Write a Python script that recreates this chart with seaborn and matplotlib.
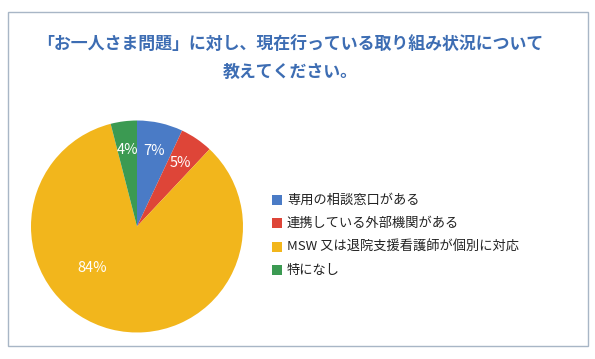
import matplotlib
matplotlib.use("Agg")
import matplotlib.pyplot as plt
import seaborn as sns
from matplotlib.patches import Rectangle

title = "「お一人さま問題」に対し、現在行っている取り組み状況について\n教えてください。"
categories = ["専用の相談窓口がある", "連携している外部機関がある",
              "MSW 又は退院支援看護師が個別に対応", "特になし"]
values = [7, 5, 84, 4]
colors = ["#4a7bc6", "#de4538", "#f2b61c", "#3b9a52"]

sns.set_style("white")
plt.rcParams['font.family'] = ['Noto Sans CJK JP', 'DejaVu Sans']

W, H = 595, 359
fig = plt.figure(figsize=(W / 100, H / 100), dpi=100)
fig.patch.set_facecolor("white")

# outer frame
fig.add_artist(Rectangle((8 / W, 1 - 346 / H), 580 / W, 334 / H,
                         transform=fig.transFigure, fill=False,
                         edgecolor="#a8b6c6", linewidth=1.0))

fig.text(0.488, 1 - 58 / H, title, ha="center", va="center",
         fontsize=12.2, fontweight="bold", color="#3d6db3", linespacing=1.72)

ax = fig.add_axes([31 / W, 1 - 333 / H, 212 / W, 213 / H])
wedges, _, autotexts = ax.pie(values, colors=colors, startangle=90,
                              counterclock=False, autopct="%d%%",
                              pctdistance=0.73,
                              wedgeprops=dict(linewidth=0),
                              textprops=dict(color="white", fontsize=10.5))
# google-style placement for the large slice
autotexts[2].set_position((-0.42, -0.39))
ax.set_xlim(-1.0, 1.0)
ax.set_ylim(-1.0, 1.0)
ax.set_aspect("equal")
ax.axis("off")

# legend
rows_y = [200, 223, 247, 270]
for cat, col, y in zip(categories, colors, rows_y):
    fig.patches.append(Rectangle((272 / W, 1 - (y + 5) / H), 10 / W, 10 / H,
                                 transform=fig.transFigure,
                                 facecolor=col, edgecolor="none"))
    fig.text(287 / W, 1 - y / H, cat, ha="left", va="center",
             fontsize=9.5, color="#222222")

fig.savefig("out.png", dpi=100, facecolor="white")
